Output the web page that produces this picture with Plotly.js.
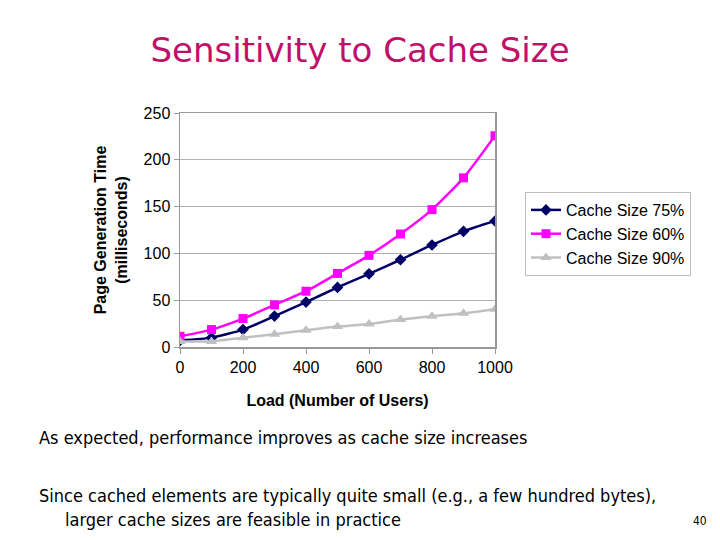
<!DOCTYPE html>
<html>
<head>
<meta charset="utf-8">
<script src="https://cdn.plot.ly/plotly-3.0.1.min.js"></script>
<style>html,body{margin:0;padding:0;background:#fff;}#chart{width:720px;height:540px;}</style>
</head>
<body>
<div id="chart"></div>
<script>
const loads = [0, 100, 200, 300, 400, 500, 600, 700, 800, 900, 1000];
const cache75 = [7, 10, 18.6, 33, 48, 63.6, 78.2, 93.2, 109, 123.6, 134.6];
const cache60 = [11.4, 18.6, 30.4, 45, 59.6, 78.6, 97.9, 120.7, 146.8, 180.7, 225.7];
const cache90 = [6, 6, 10, 13.6, 17.9, 21.8, 24.6, 29.3, 32.9, 36, 40.4];
const seriesNames = ["Cache Size 75%", "Cache Size 60%", "Cache Size 90%"];
const xTicks = [0, 200, 400, 600, 800, 1000];
const yTicks = [0, 50, 100, 150, 200, 250];

const traces = [
  {x: loads, y: cache75, name: seriesNames[0], mode: "lines+markers",
   line: {color: "#000066", width: 2.5, shape: "spline", smoothing: 0.6},
   marker: {symbol: "diamond", size: 9, color: "#000066"}},
  {x: loads, y: cache60, name: seriesNames[1], mode: "lines+markers",
   line: {color: "#ff00ff", width: 2.5, shape: "spline", smoothing: 0.6},
   marker: {symbol: "square", size: 9, color: "#ff00ff"}},
  {x: loads, y: cache90, name: seriesNames[2], mode: "lines+markers",
   line: {color: "#c0c0c0", width: 2.5, shape: "spline", smoothing: 0.6},
   marker: {symbol: "triangle-up", size: 10, color: "#c0c0c0"}}
];

const layout = {
  width: 720, height: 540,
  paper_bgcolor: "#ffffff", plot_bgcolor: "#ffffff",
  margin: {l: 180, r: 225, t: 113, b: 193},
  showlegend: true,
  legend: {x: 525, xref: "paper", y: 1, xanchor: "left", yanchor: "top",
           font: {family: "Liberation Sans, Arial", size: 16, color: "#000"},
           bordercolor: "#c0c0c0", borderwidth: 1, bgcolor: "#fff", tracegroupgap: 0},
  title: {text: "Sensitivity to Cache Size", x: 0.5, xref: "container", xanchor: "center",
          y: 0.908, yref: "container", yanchor: "middle",
          font: {family: "DejaVu Sans", size: 34, color: "#c0106a"}},
  xaxis: {range: [0, 1000], tickvals: xTicks, ticktext: xTicks.map(String),
          showgrid: false, zeroline: false, showline: true, linecolor: "#999", linewidth: 1.5, mirror: true,
          ticks: "outside", ticklen: 5, tickcolor: "#999",
          tickfont: {family: "Liberation Sans, Arial", size: 16, color: "#000"},
          title: {text: "<b>Load (Number of Users)</b>", standoff: 20,
                  font: {family: "Liberation Sans, Arial", size: 16, color: "#000"}}},
  yaxis: {range: [0, 250], tickvals: yTicks, ticktext: yTicks.map(String),
          showgrid: true, gridcolor: "#b0b0b0", gridwidth: 1, zeroline: false,
          showline: true, linecolor: "#999", linewidth: 1.5, mirror: true,
          ticks: "outside", ticklen: 5, tickcolor: "#999",
          tickfont: {family: "Liberation Sans, Arial", size: 16, color: "#000"},
          title: {text: "<b>Page Generation Time<br>(milliseconds)</b>", standoff: 12,
                  font: {family: "Liberation Sans, Arial", size: 16, color: "#000"}}},
  annotations: [
    {text: "As expected, performance improves as cache size increases", x: 37, y: 437,
     xref: "paper", yref: "paper", showarrow: false, xanchor: "left", yanchor: "middle",
     font: {family: "DejaVu Sans Condensed", size: 18, color: "#000"}},
    {text: "Since cached elements are typically quite small (e.g., a few hundred bytes),", x: 37, y: 495,
     xref: "paper", yref: "paper", showarrow: false, xanchor: "left", yanchor: "middle",
     font: {family: "DejaVu Sans Condensed", size: 18, color: "#000"}},
    {text: "larger cache sizes are feasible in practice", x: 63, y: 519,
     xref: "paper", yref: "paper", showarrow: false, xanchor: "left", yanchor: "middle",
     font: {family: "DejaVu Sans Condensed", size: 18, color: "#000"}},
    {text: "40", x: 700, y: 521, xref: "paper", yref: "paper", showarrow: false,
     xanchor: "center", yanchor: "middle",
     font: {family: "DejaVu Sans Condensed", size: 12, color: "#000"}}
  ]
};

// convert pixel positions for annotations/legend into paper coords
const pw = 720 - 180 - 225, ph = 540 - 113 - 193;
function px2x(px) { return (px - 180) / pw; }
function py2y(py) { return (540 - 193 - py) / ph; }
layout.annotations.forEach(a => { a.x = px2x(a.x); a.y = py2y(a.y); });
layout.legend.x = px2x(525);
layout.legend.y = py2y(192);

Plotly.newPlot("chart", traces, layout, {staticPlot: true});
</script>
</body>
</html>
